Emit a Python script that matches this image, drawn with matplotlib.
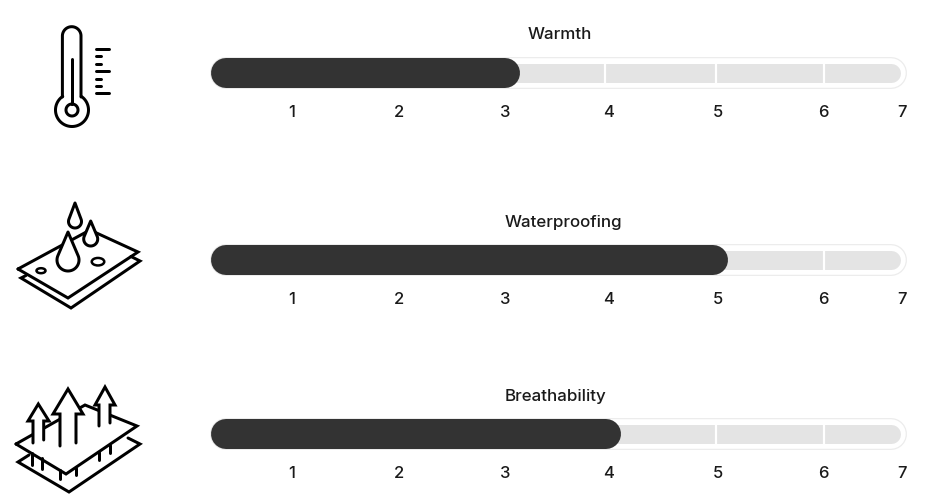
import numpy as np
import matplotlib
matplotlib.use("Agg")
import matplotlib.pyplot as plt
from matplotlib.patches import Ellipse, Polygon

plt.rcParams['font.family'] = ['Inter', 'DejaVu Sans']

# chart data
titles = ["Warmth", "Waterproofing", "Breathability"]
scores = [3.0, 4.95, 3.97]
tick_values = [1, 2, 3, 4, 5, 6, 7]
track_start = 0.38
track_end = 6.86
dividers = [3.96, 4.98, 6.01]

# the printed scale is uneven, so map value -> pixel by hand
scale_vals = [-2, 0, 1, 2, 3, 4, 5, 6, 7, 8]
scale_px = [-26, 186, 292, 399, 505, 609, 718, 823, 902, 1008]

def to_px(v):
    return np.interp(v, scale_vals, scale_px)

def to_val(p):
    return np.interp(p, scale_px, scale_vals)

px = 72 / 100  # one pixel in points at dpi 100

fig = plt.figure(figsize=(9.4, 5.03), dpi=100)

# bars live on the value axis
ax = fig.add_axes([0, 0, 1, 1])
ax.set_xscale('function', functions=(to_px, to_val))
ax.set_xlim(to_val(0), to_val(940))
ax.set_ylim(503, 0)
ax.axis('off')

# icons and titles on a plain pixel axis
ic = fig.add_axes([0, 0, 1, 1])
ic.set_xlim(0, 940)
ic.set_ylim(503, 0)
ic.axis('off')
ic.patch.set_alpha(0)

bar_y = [73, 260, 434]
label_y = [112.5, 299.5, 473.5]
title_pos = [(560, 34.5), (563, 222.5), (556, 396.5)]
dark = "#333333"
text_col = "#1a1a1a"

for i in range(3):
    y = bar_y[i]
    xs = [track_start, track_end]
    ax.plot(xs, [y, y], color="#ececec", lw=32 * px, solid_capstyle='round', zorder=1)
    ax.plot(xs, [y, y], color="white", lw=29.5 * px, solid_capstyle='round', zorder=2)
    ax.plot(xs, [y, y], color="#e4e4e4", lw=19 * px, solid_capstyle='round', zorder=3)
    for d in dividers:
        ax.plot([d, d], [y - 10, y + 10], color="white", lw=2.2 * px, zorder=4)
    ax.plot([track_start, scores[i]], [y, y], color=dark, lw=30 * px, solid_capstyle='round', zorder=5)
    for t in tick_values:
        ax.text(t, label_y[i], str(t), ha='center', va='center', fontsize=12, color=text_col, weight=500)
    ic.text(title_pos[i][0], title_pos[i][1], titles[i], ha='center', va='center', fontsize=12.2,
            color=text_col, weight=500)


def stroke(pts, lw=3.0, z=3):
    pts = np.array(pts)
    ic.plot(pts[:, 0], pts[:, 1], color="black", lw=lw * px, solid_capstyle='round',
            solid_joinstyle='miter', zorder=z)


def arc(cx, cy, r, a0, a1):
    t = np.radians(np.linspace(a0, a1, 80))
    return np.column_stack([cx + r * np.sin(t), cy - r * np.cos(t)])


def drop(cx, tip, bottom, r, z=4):
    cy = bottom - r
    a = np.degrees(np.arcsin(r / (cy - tip)))
    pts = np.vstack([[[cx, tip]], arc(cx, cy, r, 90 - a, 270 + a), [[cx, tip]]])
    ic.add_patch(Polygon(pts, closed=True, facecolor="white", edgecolor="black",
                         lw=3 * px, joinstyle='round', zorder=z))


def arrow(sx0, sx1, by0, by1, base, w0, w1, tipx, tipy, z=4):
    pts = [(sx0, by0), (sx0, base), (w0, base), (tipx, tipy), (w1, base), (sx1, base), (sx1, by1)]
    ic.add_patch(Polygon(pts, closed=True, facecolor="white", edgecolor="none", zorder=z))
    stroke(pts, z=z + 0.5)


# thermometer
cx = 72
tube = np.vstack([[[81, 97]], [[81, 36]], arc(71.7, 36, 9.3, 90, -90), [[62.4, 97]]])
stroke(tube)
stroke(arc(cx, 110, 16.5, 34, 326))
stroke(arc(cx, 110, 6, 0, 360))
stroke([(cx, 59), (cx, 104)])
for yy, x1 in zip([49, 56.3, 64, 71, 78.5, 86, 93], [109, 101, 101, 109, 101, 101, 109]):
    stroke([(95.5, yy), (x1, yy)])

# waterproof sheets
stroke([(18, 269), (68, 298), (138, 252), (90, 230), (18, 269)])
stroke([(26, 275.5), (21, 278), (71, 308), (140, 261), (131, 256.5)])
ic.add_patch(Ellipse((41, 270.7), 9, 5, facecolor="white", edgecolor="black", lw=2.5 * px, zorder=3))
ic.add_patch(Ellipse((98, 261.7), 12.5, 7.5, facecolor="white", edgecolor="black", lw=2.5 * px, zorder=3))
drop(75, 203, 228, 6.5)
drop(90.7, 221, 246, 7)
drop(68, 232, 271, 11)

# breathable sheets
stroke([(16, 444), (66, 474), (137, 426), (85, 405), (16, 444)])
stroke([(29, 455), (18, 462), (69, 492), (140, 444), (128, 438)])
for tx, y0, y1 in [(32, 453, 465), (42, 458, 469), (60, 470, 479), (76, 468, 475), (99, 452, 460), (110, 445, 453)]:
    stroke([(tx, y0), (tx, y1)])
arrow(33, 43.7, 443, 440, 421, 28, 49, 38.3, 404)
arrow(60, 76, 446, 443, 414, 53, 83, 68, 389)
arrow(99, 110, 426, 423, 405, 95, 115, 105, 387)

fig.savefig("out.png", dpi=100)
